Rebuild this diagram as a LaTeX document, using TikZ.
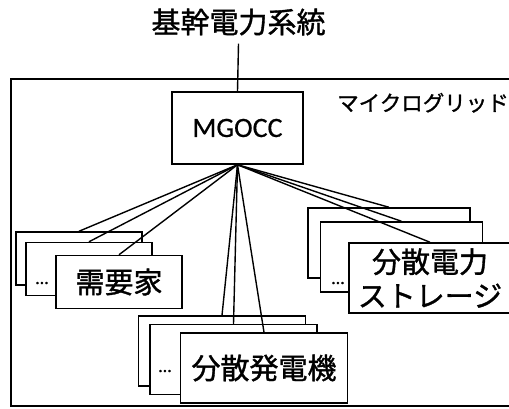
\documentclass[tikz,border=0pt]{standalone}
\usepackage{fontspec}
\setmainfont[FakeBold=1.2]{Noto Sans CJK JP}
\newfontfamily\latinf[FakeBold=0.6]{Carlito}
\begin{document}
\begin{tikzpicture}[x=1pt,y=-1pt,
  unit/.style={draw, fill=white, line width=1.5pt, inner sep=0pt},
  smallu/.style={unit, minimum width=126pt, minimum height=53pt},
  bigu/.style={unit, minimum width=167pt, minimum height=70pt},
  stou/.style={unit, minimum width=162pt, minimum height=70pt},
  link/.style={line width=1.4pt},
  jtext/.style={font=\fontsize{29}{34}\selectfont},
  dots/.style={font=\latinf\fontsize{18}{20}\selectfont, inner sep=0pt, anchor=base}
]
\clip (0,0) rectangle (509,408);
% microgrid frame
\draw[line width=2.3pt] (11,79) rectangle (540,406);
\node[anchor=base west, inner sep=0pt, font=\fontsize{21.5}{24}\selectfont] (mglabel) at (337,111) {マイクログリッド};
% top system
\node[anchor=base, inner xsep=0pt, inner ysep=8pt, font=\fontsize{29}{32}\selectfont] (grid) at (238.5,33) {基幹電力系統};
\node[unit, minimum width=131pt, minimum height=72pt, font=\latinf\fontsize{28}{30}\selectfont] (mg) at (237.5,128) {MGOCC};
\draw[link] (grid.south) -- (mg.north);
% demand group
\node[smallu] (d1) at (79,258.5) {};
\node[smallu] (d2) at (89,269) {};
\node[dots] (dd) at (42,284) {…};
\node[smallu, jtext] (d3) at (119,282) {需要家};
% generator group
\node[bigu] (g1) at (222,351) {};
\node[bigu] (g2) at (233.5,359.5) {};
\node[dots] (dg) at (165,372) {…};
\node[bigu, jtext] (g3) at (264,368) {分散発電機};
% storage group
\node[stou] (s1) at (389,243) {};
\node[stou] (s2) at (401.5,257) {};
\node[dots] (ds) at (338,284) {…};
\node[stou, jtext, align=center] (s3) at (430,278) {分散電力\\ストレージ};
% links
\foreach \t in {d1,d2,d3,g1,g2,g3,s1,s2,s3}
  \draw[link] (mg.south) -- (\t.north);
\end{tikzpicture}
\end{document}
